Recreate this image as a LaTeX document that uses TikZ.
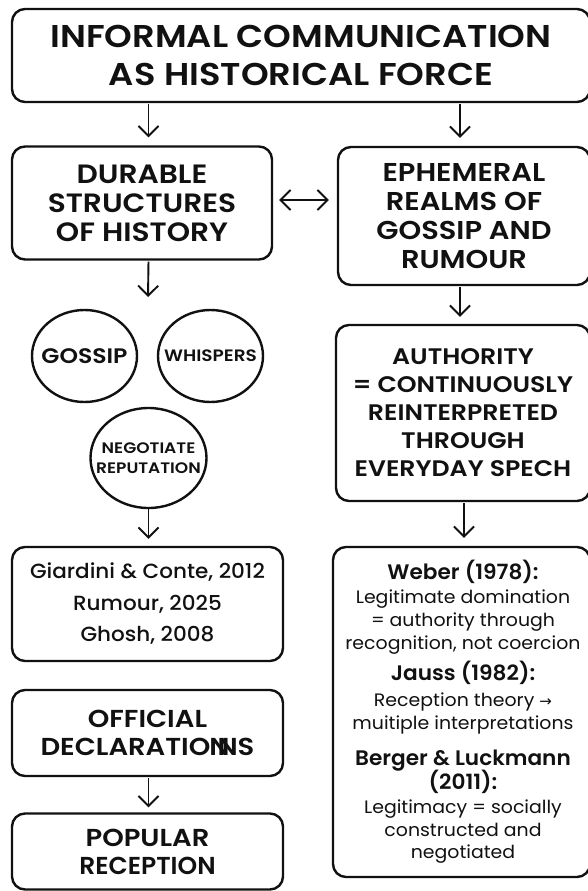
\documentclass[tikz,border=0pt]{standalone}
\usepackage{graphicx}
\usepackage{fontspec}
\setmainfont{Poppins}[FakeStretch=1.05]
\newfontfamily\hfont{Poppins SemiBold}[FakeStretch=1.12]
\newfontfamily\sfont{Poppins SemiBold}[FakeStretch=1.03]
\newfontfamily\mfont{Poppins Medium}[FakeStretch=1.05]
\newfontfamily\dejavu{DejaVu Sans}
\usetikzlibrary{arrows.meta,shapes.geometric}
\definecolor{ink}{HTML}{111111}
\begin{document}
\begin{tikzpicture}[x=1pt,y=-1pt,
  box/.style={draw=ink,line width=2.4pt,rounded corners=13pt,align=center,text=ink,inner sep=0pt},
  circ/.style={draw=ink,line width=2.4pt,ellipse,inner sep=0pt},
  ctext/.style={text=ink,align=center,inner sep=0pt},
  tip/.tip={Straight Barb[length=10pt,width=20pt,line width=1.9pt]},
  arr/.style={draw=ink,line width=1.9pt,-tip},
  darr/.style={draw=ink,line width=1.9pt,tip-tip},
  txt/.style={text=ink,inner sep=0pt,anchor=base},
]
\useasboundingbox[fill=white] (0,0) rectangle (588,891);

\node[box,font=\hfont\fontsize{31.5}{37.5}\selectfont,minimum width=578pt,minimum height=93pt] (top) at (301,55.5) {INFORMAL COMMUNICATION\\AS HISTORICAL FORCE};
\node[box,font=\hfont\fontsize{26.5}{29}\selectfont,minimum width=260pt,minimum height=113pt] (dur) at (142,203) {DURABLE\\STRUCTURES\\OF HISTORY};
\node[box,font=\hfont\fontsize{25.8}{29}\selectfont,minimum width=252pt,minimum height=138pt] (eph) at (464,216) {EPHEMERAL\\REALMS OF\\GOSSIP AND\\RUMOUR};

\node[circ,minimum width=105pt,minimum height=92pt] (gos) at (84.5,356) {};
\node[ctext,font=\hfont\fontsize{21}{22}\selectfont] (gosT) at (gos.center) {GOSSIP};
\node[circ,minimum width=105pt,minimum height=92pt] (whi) at (210.5,356) {};
\node[ctext,font=\hfont\fontsize{16.5}{22}\selectfont] (whiT) at (whi.center) {WHISPERS};
\node[circ,minimum width=116pt,minimum height=100pt] (neg) at (148.5,458) {};
\node[ctext,font=\hfont\fontsize{15.2}{20}\selectfont] (negT) at (neg.center) {NEGOTIATE\\REPUTATION};

\node[box,font=\hfont\fontsize{22.5}{28}\selectfont,minimum width=254pt,minimum height=176pt] (aut) at (463,413) {AUTHORITY\\= CONTINUOUSLY\\REINTERPRETED\\THROUGH\\EVERYDAY SPECH};

\node[box,font=\mfont\fontsize{20.5}{31.5}\selectfont,minimum width=271pt,minimum height=114pt] (refl) at (147.5,604) {Giardini \& Conte, 2012\\Rumour, 2025\\Ghosh, 2008};

\node[box,minimum width=257pt,minimum height=330pt] (refr) at (461.5,712) {};
\foreach \n/\t/\y/\f in {
  1/{Weber (1978):}/572/h,
  2/{Legitimate domination}/597/b,
  3/{= authority through}/620/b,
  4/{recognition, not coercion}/643/b,
  5/{Jauss (1982):}/673/h,
  6/{Reception theory {\dejavu\fontsize{15}{20}\selectfont →}}/700/b,
  7/{muitiple interpretations}/723/b,
  8/{Berger \& Luckmann}/758/h,
  9/{(2011):}/782/h,
  10/{Legitimacy = socially}/807/b,
  11/{constructed and}/830/b,
  12/{negotiated}/852/b}{
  \if\f h
    \node[txt,font=\sfont\fontsize{21}{24}\selectfont] (r\n) at (463,\y+7.5) {\t};
  \else
    \node[txt,font=\fontsize{18}{20}\selectfont] (r\n) at (463,\y+6) {\t};
  \fi
}

\node[box,font=\hfont\fontsize{24.5}{28}\selectfont,minimum width=271pt,minimum height=86pt] (off) at (147.5,733) {OFFICIAL\\DECLARATIO\kern-1pt N\kern-12pt NS};
\node[box,font=\hfont\fontsize{24.5}{28}\selectfont,minimum width=271pt,minimum height=76pt] (pop) at (147.5,851.5) {POPULAR\\\scalebox{0.91}[1]{RECEPTION}};

\coordinate (xl) at (148.5,0);
\coordinate (xr) at (460,0);
\coordinate (xr2) at (464,0);
\coordinate (yd) at (0,200);
\coordinate (c1) at (148,297);

\draw[arr,shorten <=1pt,shorten >=8pt] (top.south -| xl) -- (dur.north -| xl);
\draw[arr,shorten <=1pt,shorten >=8pt] (top.south -| xr) -- (eph.north -| xr);
\draw[darr,shorten <=6pt,shorten >=8pt] (dur.east |- yd) -- (eph.west |- yd);
\draw[arr,shorten <=1pt] (dur.south -| xl) -- (c1);
\draw[arr,shorten <=1pt,shorten >=7pt] (eph.south -| xr) -- (aut.north -| xr);
\draw[arr,shorten >=7pt] (neg.south) -- (refl.north -| neg.south);
\draw[arr,shorten <=1pt,shorten >=8pt] (aut.south -| xr2) -- (refr.north -| xr2);
\draw[arr,shorten <=1pt,shorten >=5pt] (off.south -| xl) -- (pop.north -| xl);
\end{tikzpicture}
\end{document}
